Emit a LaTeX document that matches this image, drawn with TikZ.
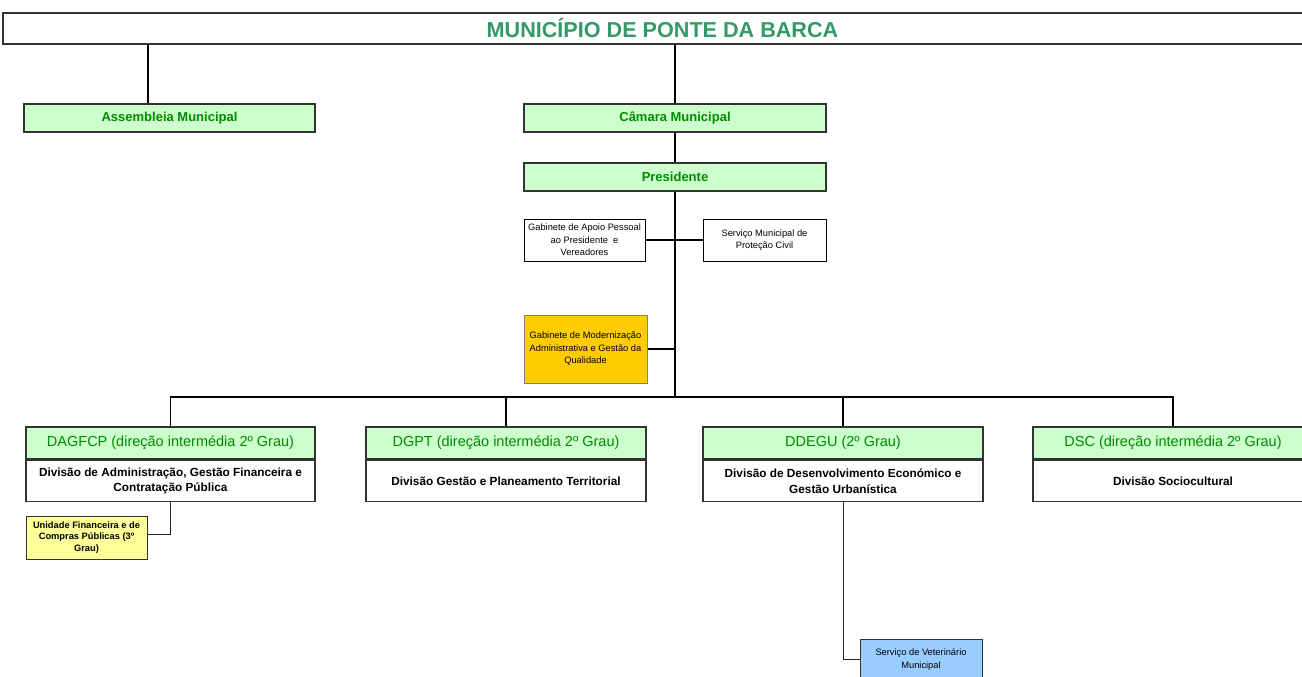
\documentclass[tikz,border=0pt]{standalone}
\usepackage{fontspec}
\setmainfont{Liberation Sans}
\usepackage{tikz}
\usetikzlibrary{positioning}

\definecolor{titlegreen}{HTML}{339966}
\definecolor{labelgreen}{HTML}{008A00}
\definecolor{boxgreen}{HTML}{CCFFCC}
\definecolor{boxline}{HTML}{333333}
\definecolor{gmorange}{HTML}{FFCC00}
\definecolor{ufyellow}{HTML}{FFFF99}
\definecolor{svblue}{HTML}{99CCFF}

\tikzset{
	greenbox/.style={draw=boxline,line width=1.8pt,fill=boxgreen,text=labelgreen,inner sep=0pt,
		minimum width=#1,minimum height=28,font=\fontsize{13}{15}\selectfont\bfseries},
	headbox/.style={draw=boxline,line width=1.6pt,fill=boxgreen,text=labelgreen,inner sep=0pt,
		minimum width=#1,minimum height=32,font=\fontsize{14.5}{17}\selectfont},
	divbox/.style={draw=boxline,line width=1.6pt,fill=white,align=center,inner sep=0pt,
		minimum width=#1,minimum height=41,font=\fontsize{11.8}{15.6}\selectfont\bfseries},
	smallbox/.style={draw=black,line width=0.8pt,align=center,inner sep=0pt,
		minimum width=#1,minimum height=42,font=\fontsize{9.3}{12.5}\selectfont},
	link/.style={draw=black,line width=1.4pt},
	thinlink/.style={draw=black!85,line width=1pt},
}

\begin{document}
\begin{tikzpicture}[x=1pt,y=-1pt]
		\useasboundingbox (0,0) rectangle (1302,677);
		% title and top level
		\node[draw=boxline,line width=1.8pt,minimum width=1319,minimum height=31,inner sep=0pt,
			text=titlegreen,font=\fontsize{21.6}{25}\selectfont\bfseries] (mun) at (662.5,28.5) {MUNICÍPIO DE PONTE DA BARCA};
		\node[greenbox=291] (asm) at (169.5,118) {Assembleia Municipal};
		\node[greenbox=302] (cam) at (675,118) {Câmara Municipal};
		\node[greenbox=302] (pres) at (675,177) {Presidente};
		
		% services of the president
		\node[smallbox=121] (gap) at (584.5,240) {Gabinete de Apoio Pessoal\\ao Presidente~ e\\Vereadores};
		\node[smallbox=123] (smpc) at (764.5,240) {Serviço Municipal de\\Proteção Civil};
		\node[smallbox=123,minimum height=68,fill=gmorange,draw=gray,line width=1pt] (gmagq) at (585.5,349)
			{Gabinete de Modernização\\Administrativa e Gestão da\\Qualidade};
		
		% divisions
		\node[headbox=289] (dagfcp) at (170.5,443) {DAGFCP (direção intermédia 2º Grau)};
		\node[divbox=289,anchor=north] (dagfcpdiv) at (dagfcp.south) {Divisão de Administração, Gestão Financeira e\\Contratação Pública};
		\node[headbox=280] (dgpt) at (506,443) {DGPT (direção intermédia 2º Grau)};
		\node[divbox=280,anchor=north] (dgptdiv) at (dgpt.south) {Divisão Gestão e Planeamento Territorial};
		\node[headbox=280] (ddegu) at (843,443) {DDEGU (2º Grau)};
		\node[divbox=280,anchor=north] (ddegudiv) at (ddegu.south) {Divisão de Desenvolvimento Económico e\\Gestão Urbanística};
		\node[headbox=280] (dsc) at (1173,443) {DSC (direção intermédia 2º Grau)};
		\node[divbox=280,anchor=north] (dscdiv) at (dsc.south) {Divisão Sociocultural};
		
		\node[smallbox=121,minimum height=43,fill=ufyellow,draw=boxline,
			font=\fontsize{9.3}{11.7}\selectfont\bfseries] (ufcp) at (86.5,537.5) {Unidade Financeira e de\\Compras Públicas (3º\\Grau)};
		\node[smallbox=122,minimum height=41,fill=svblue,draw=boxline] (svm) at (921,659.5) {Serviço de Veterinário\\Municipal};
		
		% connectors
		\coordinate (bus) at (675,397);
		\draw[link] ([xshift=-21.5]asm.north) -- ([xshift=-21.5]asm.north |- mun.south);
		\draw[link] (cam.north) -- (cam.north |- mun.south);
		\draw[link] (cam.south) -- (pres.north);
		\draw[link] (pres.south) -- (bus);
		\draw[link] (gap.east) -- (smpc.west);
		\draw[link] (gmagq.east) -- (gmagq.east -| bus);
		\draw[link] (dagfcp.north) |- (bus) -| (dsc.north);
		\draw[link] (dgpt.north) -- (dgpt.north |- bus);
		\draw[link] (ddegu.north) -- (ddegu.north |- bus);
		\draw[thinlink] (dagfcpdiv.south) |- ([yshift=3.5]ufcp.east);
		\draw[thinlink] (ddegudiv.south) |- (svm.west);
	\end{tikzpicture}
\end{document}
